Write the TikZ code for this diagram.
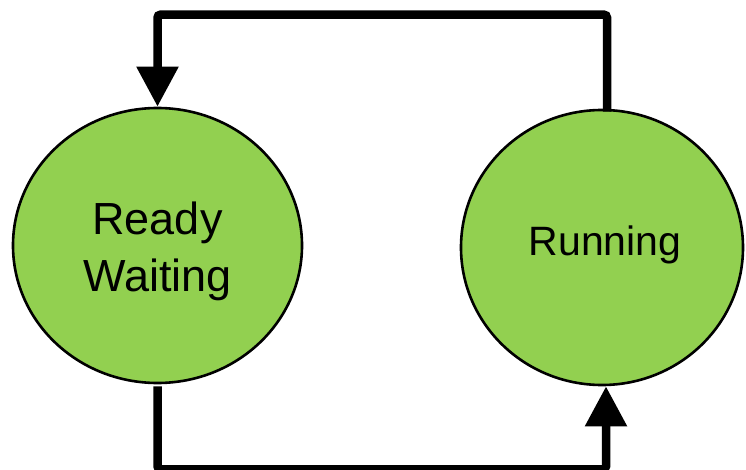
\documentclass[tikz,border=0pt]{standalone}
\usepackage{fontspec}
\setmainfont{Liberation Sans}
\usetikzlibrary{arrows.meta,shapes.geometric}
\definecolor{stategreen}{HTML}{92D050}
\begin{document}
\begin{tikzpicture}[x=1pt,y=-1pt,
  state/.style={ellipse, draw=black, line width=2.6pt, fill=stategreen,
    inner sep=0pt, align=center},
  conn/.style={line width=8.5pt, rounded corners=3pt,
    -{Triangle[width=40pt,length=40pt]}}]
\useasboundingbox (0,0) rectangle (746,470);
\node[state, minimum width=289pt, minimum height=275pt] (L) at (157.5,245.5) {};
\node[state, minimum width=282pt, minimum height=275pt] (R) at (602,247.5) {};
\node[font=\fontsize{45}{57}\selectfont, align=center] (Ltext) at (157.5,251) {Ready\\Waiting};
\node[font=\fontsize{41}{49}\selectfont] (Rtext) at (605,245) {Running};
% Running -> Ready/Waiting over the top
\draw[conn] ([xshift=5pt,yshift=-3pt]R.north) -- ++(0,-97) -| (L.north);
% Ready/Waiting -> Running along the bottom
\draw[conn] ([yshift=-2pt]L.south) -- ++(0,83) -| ([xshift=4pt]R.south);
\end{tikzpicture}
\end{document}
